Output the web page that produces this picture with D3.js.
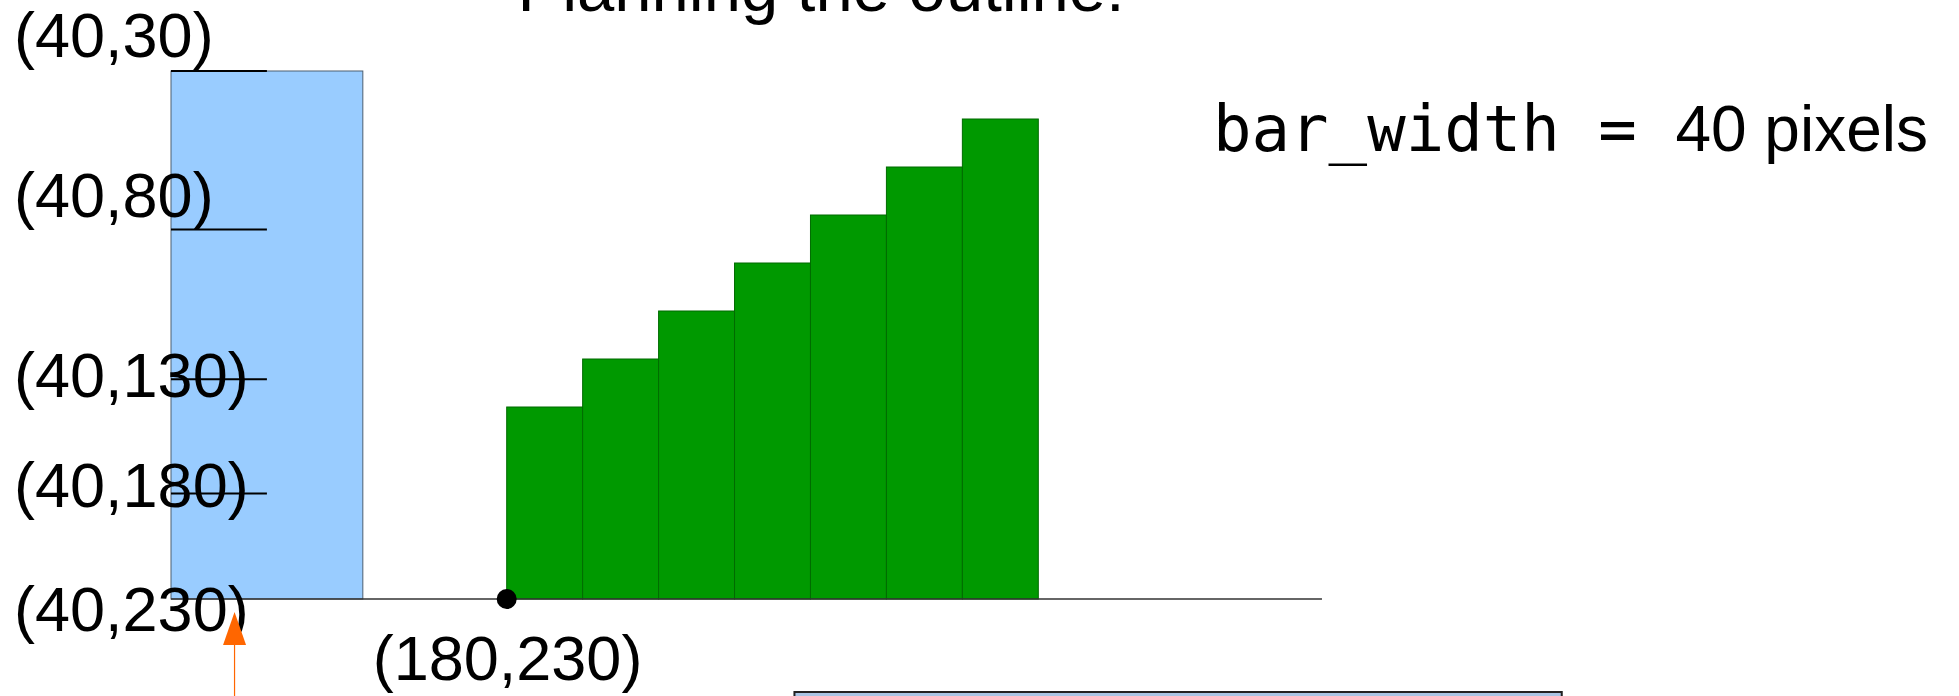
<!DOCTYPE html>
<html lang="en">

<head>
    <meta charset="utf-8">
    <script src="https://d3js.org/d3.v7.min.js"></script>
    <style>
        body {
            margin: 0;
            background: #fff;
        }

        text {
            font-family: "Liberation Sans", Arial, sans-serif;
            fill: #000;
        }

        .mono {
            font-family: "DejaVu Sans Mono", monospace;
        }

        .blue {
            fill: #99ccff;
            stroke: #4d5e70;
            stroke-width: 1;
        }

        .bar {
            fill: #009900;
            stroke: #006b00;
            stroke-width: 1;
        }
    </style>
</head>

<body>
    <svg width="1959" height="696"></svg>

    <script>
        // the staircase of green bars
        var categories = ["b1", "b2", "b3", "b4", "b5", "b6", "b7"];
        var values = [4, 5, 6, 7, 8, 9, 10];

        // the big blue bar on the left
        var blueValue = 11;

        // annotation marks on the blue bar (in bar units) and their labels
        var tickValues = [11, 7.7, 4.58, 2.2, 0];
        var tickLabels = ["(40,30)", "(40,80)", "(40,130)", "(40,180)", "(40,230)"];

        var title = "Planning the outline:";
        var cornerLabel = "(180,230)";

        var svg = d3.select("svg");

        // diagram x units -> pixels
        var x = d3.scaleLinear().domain([40, 180]).range([171, 506.7]);

        // bar value -> pixels
        var y = d3.scaleLinear().domain([0, blueValue]).range([599, 71]);

        // band scale for the green bars
        var xb = d3.scaleBand()
            .domain(categories)
            .range([x(180), x(401.7)])
            .padding(0);

        //blue bar
        svg.append("rect")
            .attr("class", "blue")
            .attr("x", x(40))
            .attr("y", y(blueValue))
            .attr("width", x(120) - x(40))
            .attr("height", y(0) - y(blueValue));

        //green bars
        svg.selectAll(".bar")
            .data(values)
            .enter().append("rect")
            .attr("class", "bar")
            .attr("x", function (d, i) {
                return xb(categories[i]);
            })
            .attr("y", function (d) {
                return y(d);
            })
            .attr("width", xb.bandwidth())
            .attr("height", function (d) {
                return y(0) - y(d);
            });

        //baseline
        svg.append("line")
            .attr("x1", x(40))
            .attr("x2", x(520))
            .attr("y1", y(0))
            .attr("y2", y(0))
            .attr("stroke", "#333")
            .attr("stroke-width", 1.5);

        //tick marks (not the last one, that's the baseline)
        svg.selectAll(".tick")
            .data(tickValues.slice(0, 4))
            .enter().append("line")
            .attr("class", "tick")
            .attr("x1", x(40))
            .attr("x2", x(80))
            .attr("y1", function (d) { return y(d); })
            .attr("y2", function (d) { return y(d); })
            .attr("stroke", "#000")
            .attr("stroke-width", 2);

        //coordinate labels, nudged a bit like the hand drawing
        var labelDy = [-14, -12, 18, 14, 32];
        svg.selectAll(".lbl")
            .data(tickLabels)
            .enter().append("text")
            .attr("class", "lbl")
            .attr("x", 14)
            .attr("y", function (d, i) { return y(tickValues[i]) + labelDy[i]; })
            .style("font-size", "63px")
            .text(function (d) { return d; });

        //corner point
        svg.append("circle")
            .attr("cx", x(180))
            .attr("cy", y(0))
            .attr("r", 10)
            .attr("fill", "#000");

        svg.append("text")
            .attr("x", x(180) - 134)
            .attr("y", y(0) + 81)
            .style("font-size", "63px")
            .text(cornerLabel);

        //orange arrow pointing up at the origin
        var ax = x(66.5);
        svg.append("line")
            .attr("x1", ax).attr("x2", ax)
            .attr("y1", 645).attr("y2", 696)
            .attr("stroke", "#ff6600")
            .attr("stroke-width", 1.2);
        svg.append("path")
            .attr("d", "M" + ax + ",612 L" + (ax - 11.5) + ",645 L" + (ax + 11.5) + ",645 Z")
            .attr("fill", "#ff6600");

        //title, mostly off the top
        svg.append("text")
            .attr("x", x(184.5))
            .attr("y", 11)
            .style("font-size", "67px")
            .text(title);

        //bar_width note
        var note = svg.append("text")
            .attr("x", 1213)
            .attr("y", 151)
            .style("font-size", "64px")
            .style("white-space", "pre");
        note.append("tspan").attr("class", "mono").text("bar_width = ");
        note.append("tspan").text("40 pixels");

        //box peeking in at the bottom
        svg.append("rect")
            .attr("x", x(300))
            .attr("y", 692)
            .attr("width", x(620) - x(300))
            .attr("height", 40)
            .attr("fill", "#a9c4e4")
            .attr("stroke", "#222")
            .attr("stroke-width", 2);
    </script>
</body>

</html>
